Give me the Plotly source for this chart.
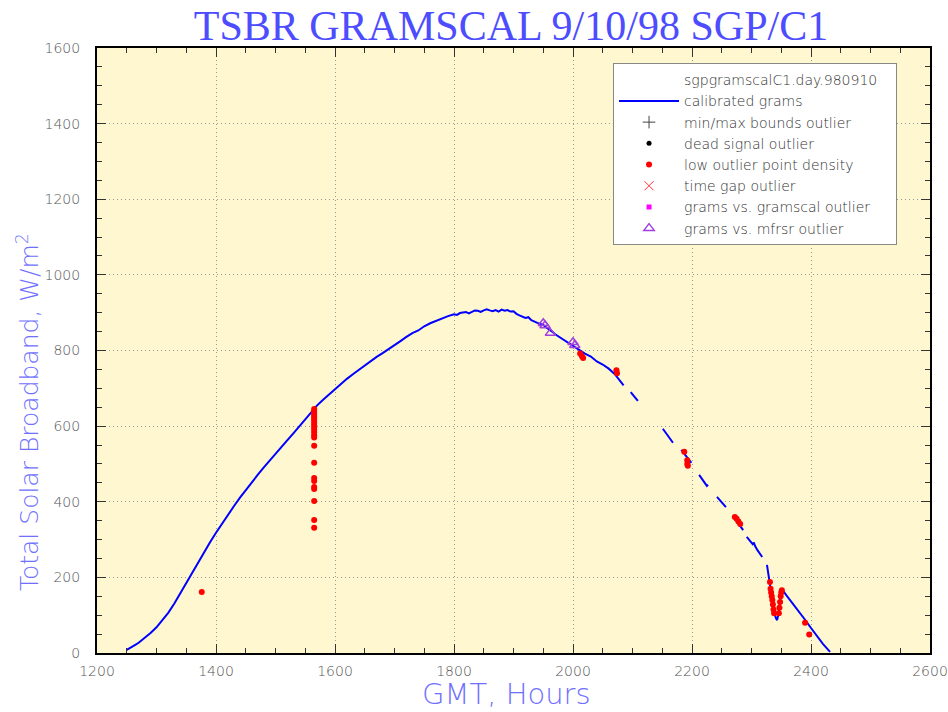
import plotly.graph_objects as go

# calibrated grams curve (GMT hours, W/m^2); None marks data gaps
curve_t = [1250, 1255, 1260, 1265, 1270, 1280, 1290, 1300, 1310, 1320, 1330, 1340, 1350,
           1360, 1370, 1380, 1390, 1400, 1410, 1420, 1430, 1440, 1450, 1460, 1470, 1480,
           1490, 1500, 1510, 1520, 1530, 1540, 1550, 1560, 1570, 1580, 1590, 1600, 1610,
           1620, 1630, 1640, 1650, 1660, 1670, 1680, 1690, 1700, 1710, 1720, 1730, 1740,
           1750, 1760, 1770, 1780, 1790, 1800, 1805, 1810, 1815, 1820, 1825, 1830, 1835,
           1840, 1845, 1850, 1855, 1860, 1865, 1870, 1875, 1880, 1885, 1890, 1895, 1900,
           1905, 1910, 1915, 1920, 1925, 1930, 1940, 1950, 1955, 1960, 1965, 1970, 1975,
           1980, 1990, 2000, 2005, 2010, 2020, 2030, 2040, 2050, 2060, 2070, 2080, 2085,
           None,
           2097, 2103, 2109, None,
           2151, 2156, 2162, 2168, None,
           2182, 2188, 2193, 2199, None,
           2212, 2217, 2222, 2225, 2227, None,
           2242, 2247, 2252, 2257, None,
           2269, 2274, 2279, 2286, None,
           2292, 2298, 2302, 2304, 2306, 2310, 2314, 2318, None,
           2326, 2329, 2331, 2333, 2335, 2337, 2339, 2341, 2343, 2345, 2347, 2349, 2351,
           2360, 2370, 2380, 2390, 2400, 2410, 2420, 2432]
curve_v = [8, 12, 17, 22, 27, 39, 53, 68, 86, 107, 131, 158, 186,
           214, 241, 267, 293, 318, 342, 365, 388, 410, 431, 451, 471, 490,
           509, 527, 545, 563, 581, 599, 616, 636, 655, 670, 684, 698, 712,
           725, 737, 749, 761, 772, 783, 793, 803, 815, 825, 836, 846, 853,
           864, 872, 879, 886, 891, 896, 894, 899, 901, 902, 898, 903, 906,
           905, 902, 906, 909, 906, 904, 907, 903, 908, 905, 907, 903, 904,
           897, 893, 889, 886, 888, 880, 873, 868, 861, 856, 850, 843, 838,
           831, 822, 813, 808, 803, 792, 784, 771, 763, 752, 738, 716, 708,
           None,
           690, 679, 667, None,
           593, 582, 569, 556, None,
           537, 526, 514, 503, None,
           471, 461, 450, 442, 445, None,
           413, 404, 395, 386, None,
           362, 352, 342, 325, None,
           307, 295, 288, 292, 283, 272, 262, 254, None,
           233, 205, 188, 165, 140, 115, 100, 92, 87, 100, 125, 150, 169,
           150, 130, 110, 88, 66, 45, 24, 3]

# low outlier point density (red dots)
low_t = [1376,
         1565, 1565, 1565, 1565, 1565, 1565, 1565, 1565, 1565, 1565, 1565, 1565, 1565,
         1565, 1565, 1565, 1565, 1565, 1565, 1565, 1565, 1565, 1565,
         2012, 2015, 2017, 2073, 2074,
         2187, 2192, 2192, 2193,
         2272, 2275, 2278, 2281,
         2331, 2332, 2333, 2334, 2335, 2336, 2337, 2338,
         2346, 2347, 2348, 2349, 2350, 2351,
         2390, 2397]
low_v = [161,
         645, 640, 635, 630, 625, 620, 614, 608, 602, 596, 590, 583, 576,
         570, 548, 503, 463, 455, 439, 434, 402, 352, 331,
         792, 785, 780, 748, 740,
         532, 510, 500, 495,
         360, 355, 348, 341,
         188, 170, 160, 150, 140, 128, 115, 105,
         105, 120, 135, 150, 160, 166,
         80, 49]

# grams vs. mfrsr outlier (triangles)
mfrsr_t = [1950, 1953, 1962, 2000, 2003]
mfrsr_v = [872, 866, 846, 822, 814]

x_ticks = [1200, 1400, 1600, 1800, 2000, 2200, 2400, 2600]
y_ticks = [0, 200, 400, 600, 800, 1000, 1200, 1400, 1600]

legend_header = "sgpgramscalC1.day.980910"

fig = go.Figure()
fig.add_trace(go.Scatter(x=[None], y=[None], mode="markers",
                         name=legend_header + "\u00a0\u00a0\u00a0",
                         marker=dict(color="rgba(0,0,0,0)", size=1)))
fig.add_trace(go.Scatter(x=curve_t, y=curve_v, mode="lines", name="calibrated grams",
                         line=dict(color="#0000ff", width=2), connectgaps=False))
fig.add_trace(go.Scatter(x=[None], y=[None], mode="markers", name="min/max bounds outlier",
                         marker=dict(symbol="cross-thin-open", color="#444", size=9,
                                     line=dict(width=1, color="#444"))))
fig.add_trace(go.Scatter(x=[None], y=[None], mode="markers", name="dead signal outlier",
                         marker=dict(symbol="circle", color="black", size=5)))
fig.add_trace(go.Scatter(x=low_t, y=low_v, mode="markers", name="low outlier point density",
                         marker=dict(symbol="circle", color="#ff0000", size=6)))
fig.add_trace(go.Scatter(x=[None], y=[None], mode="markers", name="time gap outlier",
                         marker=dict(symbol="x-thin-open", color="#ff3030", size=9,
                                     line=dict(width=1, color="#ff3030"))))
fig.add_trace(go.Scatter(x=[None], y=[None], mode="markers", name="grams vs. gramscal outlier",
                         marker=dict(symbol="square", color="#ff00ff", size=5)))
fig.add_trace(go.Scatter(x=mfrsr_t, y=mfrsr_v, mode="markers", name="grams vs. mfrsr outlier",
                         marker=dict(symbol="triangle-up-open", color="#a040e0", size=9,
                                     line=dict(width=1.5, color="#a040e0"))))

axis_common = dict(
    showline=True, linecolor="black", linewidth=2, mirror="allticks",
    ticks="inside", ticklen=9, tickcolor="#333", tickwidth=1,
    showgrid=True, gridcolor="#999", griddash="1px,3px", gridwidth=1,
    zeroline=False, automargin=False,
    tickfont=dict(family="DejaVu Sans", size=14, color="#555", weight=300),
    minor=dict(ticks="inside", ticklen=5, tickcolor="#333", dtick=50, showgrid=False),
)

fig.update_xaxes(range=[1200, 2600], tickvals=x_ticks, ticktext=[str(v) for v in x_ticks],
                 ticklabelstandoff=4, **axis_common)
fig.update_yaxes(range=[0, 1600], tickvals=y_ticks, ticktext=[str(v) for v in y_ticks],
                 ticklabelstandoff=12, **axis_common)

fig.update_layout(
    width=948, height=712,
    margin=dict(l=97, r=18, t=48, b=59, autoexpand=False),
    paper_bgcolor="white", plot_bgcolor="#fff7d0",
    title=dict(text="TSBR GRAMSCAL 9/10/98 SGP/C1", x=0.539, xanchor="center",
               y=1 - 25 / 712, yanchor="middle", yref="container",
               font=dict(family="Liberation Serif", size=42, color="#4d4dff")),
    showlegend=True,
    legend=dict(x=0.6195, y=0.975, xanchor="left", yanchor="top",
                bgcolor="white", bordercolor="#888", borderwidth=1,
                itemwidth=60, traceorder="normal",
                font=dict(family="DejaVu Sans", size=14, color="#333", weight=300)),
    annotations=[
        dict(text="GMT, Hours", xref="paper", yref="paper", x=0.492, y=-0.068,
             xanchor="center", yanchor="middle", showarrow=False,
             font=dict(family="DejaVu Sans", size=29, color="#7070ff", weight=200)),
        dict(text="Total Solar Broadband, W/m<sup>2</sup>", xref="paper", yref="paper",
             x=-0.083, y=0.398, xanchor="center", yanchor="middle", textangle=-90,
             showarrow=False,
             font=dict(family="DejaVu Sans", size=25, color="#7070ff", weight=200)),
    ],
)

fig.write_html("out.html", config={"displayModeBar": False},
               post_script="document.body.style.margin='0';document.body.style.overflow='hidden';")
